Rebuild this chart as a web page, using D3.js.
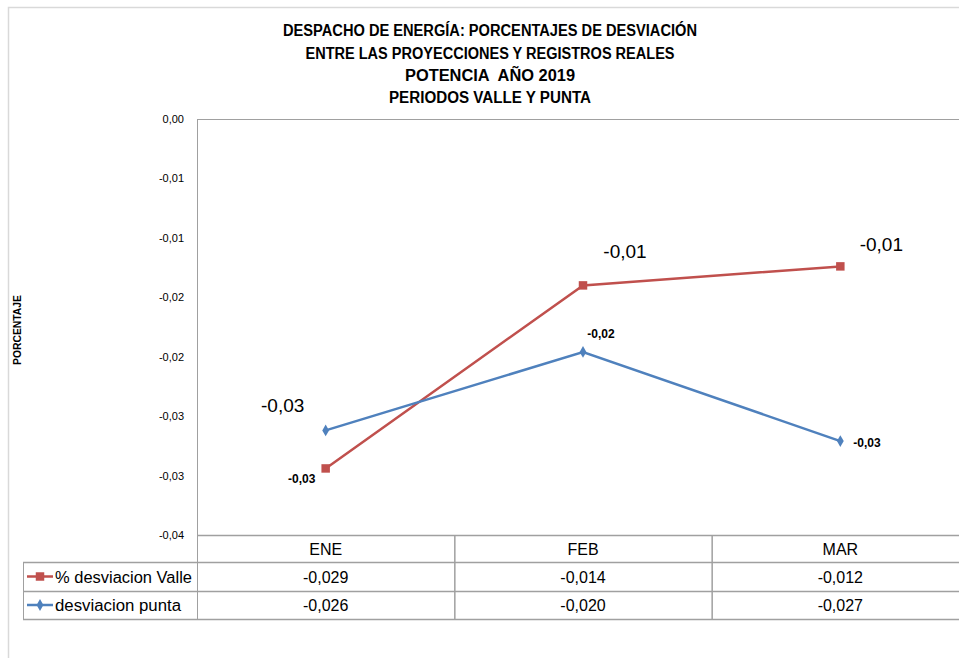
<!DOCTYPE html>
<html>
<head>
<meta charset="utf-8">
<script src="https://cdn.jsdelivr.net/npm/d3@7"></script>
<style>
  body { margin: 0; background: #fff; }
  svg { display: block; font-family: "Liberation Sans", Arial, sans-serif; }
</style>
</head>
<body>
<svg id="chart" width="959" height="658"></svg>
<script>
// datos
const categories = ["ENE", "FEB", "MAR"];
const valle = [-0.0294, -0.0140, -0.0124];
const punta = [-0.0262, -0.0196, -0.0271];
const yTicks = [0, -0.005, -0.01, -0.015, -0.02, -0.025, -0.03, -0.035];
const yTickLabels = ["0,00", "-0,01", "-0,01", "-0,02", "-0,02", "-0,03", "-0,03", "-0,04"];
const titleLines = [
  "DESPACHO DE ENERGÍA: PORCENTAJES DE DESVIACIÓN",
  "ENTRE LAS PROYECCIONES Y REGISTROS REALES",
  "POTENCIA  AÑO 2019",
  "PERIODOS VALLE Y PUNTA"
];

const svg = d3.select("#chart");
const plotLeft = 197, plotTop = 119, plotBottom = 535, plotRight = 969;
const rowH = [535, 562, 591, 619];
const gridColor = "#a0a0a0";
const red = "#c0504d", blue = "#4f81bd";

const es = d3.formatLocale({ decimal: ",", thousands: ".", grouping: [3], currency: ["", ""], minus: "-" });
const f2 = es.format(".2f"), f3 = es.format(".3f");

const x = d3.scaleBand().domain(categories).range([plotLeft, plotRight]);
const y = d3.scaleLinear().domain([-0.035, 0]).range([plotBottom, plotTop]);
const cx = (c) => x(c) + x.bandwidth() / 2;

// borde exterior
svg.append("path").attr("d", "M8.5,658 V7.5 H959")
  .attr("fill", "none").attr("stroke", "#d9d9d9").attr("stroke-width", 1.5);

// titulo
const titleY = [36, 59, 81, 103];
const titleW = [414, 369, 170, 202];
titleLines.forEach((t, i) => {
  svg.append("text").attr("x", 490).attr("y", titleY[i])
    .attr("text-anchor", "middle").attr("font-weight", "bold").attr("font-size", 16)
    .attr("textLength", titleW[i]).attr("lengthAdjust", "spacingAndGlyphs")
    .style("white-space", "pre")
    .attr("fill", "#000").text(t);
});

// eje Y
const yAxis = svg.append("g").attr("transform", `translate(${plotLeft},0)`)
  .call(d3.axisLeft(y).tickValues(yTicks).tickSize(0).tickPadding(13)
    .tickFormat((d, i) => yTickLabels[i]));
yAxis.select(".domain").remove();
yAxis.selectAll("text").attr("font-size", 11).attr("fill", "#000")
  .attr("font-family", "'Liberation Sans Narrow', 'Liberation Sans', sans-serif");

svg.append("text").attr("transform", "translate(21,330) rotate(-90)")
  .attr("text-anchor", "middle").attr("font-size", 10).attr("font-weight", "bold")
  .attr("textLength", 70).attr("lengthAdjust", "spacingAndGlyphs")
  .text("PORCENTAJE");

// marco del area de trazado y tabla
svg.append("line").attr("x1", plotLeft).attr("x2", plotRight).attr("y1", plotTop + 0.5).attr("y2", plotTop + 0.5)
  .attr("stroke", gridColor);
svg.append("line").attr("x1", plotLeft + 0.5).attr("x2", plotLeft + 0.5).attr("y1", plotTop).attr("y2", rowH[3])
  .attr("stroke", gridColor);
rowH.forEach((r, i) => {
  svg.append("line").attr("x1", i === 0 ? plotLeft : 23).attr("x2", plotRight)
    .attr("y1", r + 0.5).attr("y2", r + 0.5).attr("stroke", gridColor).attr("stroke-width", 1.5);
});
svg.append("line").attr("x1", 23.5).attr("x2", 23.5).attr("y1", rowH[1]).attr("y2", rowH[3])
  .attr("stroke", gridColor);
categories.slice(1).forEach((c) => {
  svg.append("line").attr("x1", x(c) + 0.5).attr("x2", x(c) + 0.5)
    .attr("y1", rowH[0]).attr("y2", rowH[3]).attr("stroke", gridColor).attr("stroke-width", 1.5);
});

// tabla de datos
const tbl = svg.append("g").attr("font-size", 16).attr("fill", "#000").attr("text-anchor", "middle");
tbl.selectAll(".cat").data(categories).join("text")
  .attr("x", (d) => cx(d)).attr("y", (rowH[0] + rowH[1]) / 2 + 6).text((d) => d);
tbl.selectAll(".v").data(valle).join("text")
  .attr("x", (d, i) => cx(categories[i])).attr("y", (rowH[1] + rowH[2]) / 2 + 6).text((d) => f3(d));
tbl.selectAll(".p").data(punta).join("text")
  .attr("x", (d, i) => cx(categories[i])).attr("y", (rowH[2] + rowH[3]) / 2 + 6).text((d) => f3(d));

const squareSym = d3.symbol().type(d3.symbolSquare).size(72);
const diamondSym = d3.symbol().type(d3.symbolDiamond).size(40);

// leyenda en la tabla
const legend = [
  { name: "% desviacion Valle", color: red, sym: squareSym, row: 1 },
  { name: "desviacion punta", color: blue, sym: diamondSym, row: 2 }
];
legend.forEach((l) => {
  const ly = (rowH[l.row] + rowH[l.row + 1]) / 2;
  svg.append("line").attr("x1", 27).attr("x2", 53).attr("y1", ly).attr("y2", ly)
    .attr("stroke", l.color).attr("stroke-width", 2.5);
  svg.append("path").attr("d", l.sym()).attr("transform", `translate(40,${ly})`).attr("fill", l.color);
  svg.append("text").attr("x", 55).attr("y", ly + 6).attr("font-size", 16)
    .attr("textLength", l.row === 1 ? 137 : 126).attr("lengthAdjust", "spacingAndGlyphs")
    .text(l.name);
});

// series
const line = d3.line().x((d, i) => cx(categories[i])).y((d) => y(d));
svg.append("path").datum(valle).attr("d", line).attr("fill", "none")
  .attr("stroke", red).attr("stroke-width", 2.5);
svg.append("path").datum(punta).attr("d", line).attr("fill", "none")
  .attr("stroke", blue).attr("stroke-width", 2.5);

svg.selectAll(".mv").data(valle).join("path")
  .attr("d", squareSym()).attr("fill", red)
  .attr("transform", (d, i) => `translate(${cx(categories[i])},${y(d)})`);
svg.selectAll(".mp").data(punta).join("path")
  .attr("d", diamondSym()).attr("fill", blue)
  .attr("transform", (d, i) => `translate(${cx(categories[i])},${y(d)})`);

// etiquetas de datos
const valleOff = [[-43, -56], [42, -27], [41, -15]];
const puntaOff = [[-24, 53], [18, -14], [13, 6]];
svg.selectAll(".lv").data(valle).join("text")
  .attr("x", (d, i) => cx(categories[i]) + valleOff[i][0])
  .attr("y", (d, i) => y(d) + valleOff[i][1])
  .attr("text-anchor", "middle").attr("font-size", 19).text((d) => f2(d));
svg.selectAll(".lp").data(punta).join("text")
  .attr("x", (d, i) => cx(categories[i]) + puntaOff[i][0])
  .attr("y", (d, i) => y(d) + puntaOff[i][1])
  .attr("text-anchor", (d, i) => i === 2 ? "start" : "middle")
  .attr("font-size", 12).attr("font-weight", "bold").text((d) => f2(d));
</script>
</body>
</html>
